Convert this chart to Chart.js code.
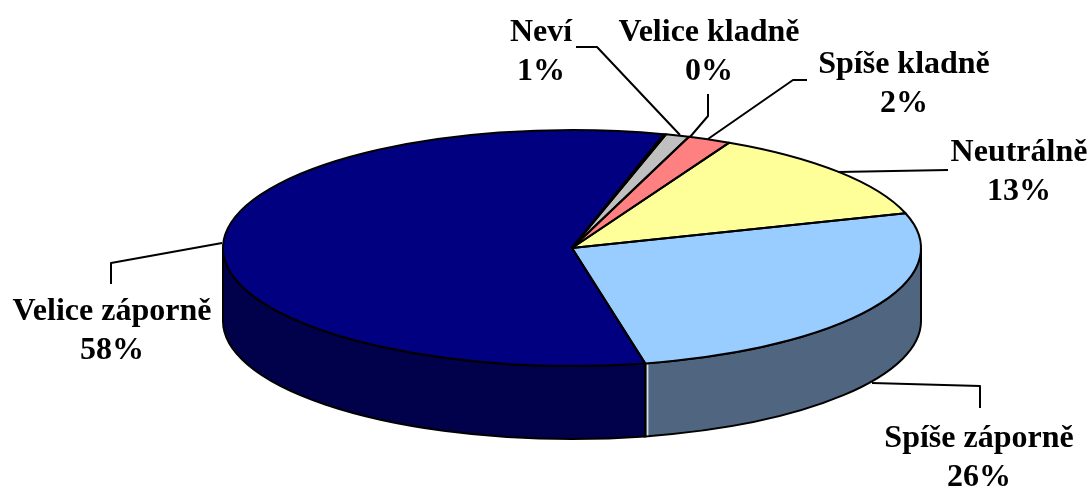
<!DOCTYPE html>
<html>
<head>
<meta charset="utf-8">
<style>html,body{margin:0;padding:0;background:#fff}canvas{display:block}</style>
<script src="https://cdn.jsdelivr.net/npm/chart.js@4"></script>
</head>
<body>
<canvas id="c" width="1092" height="489"></canvas>
<script>
// Clockwise from the boundary at the front of the pie
const categories = ["Velice záporně", "Velice kladně", "Neví", "Spíše kladně", "Neutrálně", "Spíše záporně"];
const values = [57.6, 0.1, 1.1, 2.0, 12.8, 26.4];
const percentLabels = ["58%", "0%", "1%", "2%", "13%", "26%"];
const topColors = ["#000080", "#000000", "#C0C0C0", "#FF8080", "#FFFF99", "#99CCFF"];
const wallColors = ["#00004B", "#000000", "#70707A", "#805050", "#808050", "#506680"];

const startRotation = 167.9;
const pie = {cx: 572, cy: 248, rx: 349, ry: 118, depth: 73};
const labelCentres = [[112, 312], [709, 33], [541, 33], [904, 65], [1019, 153], [979, 439]];
const leaders = [
  [[222, 243], [111, 263], [111, 284]],
  [[708, 94], [708, 116], [690, 137]],
  [[576, 47], [597, 47], [680, 135]],
  [[807, 80], [793, 80], [708, 139]],
  [[948, 170], [838, 172]],
  [[872, 383], [980, 386], [980, 408]]
];

const pie3d = {
  id: 'pie3d',
  beforeDatasetsDraw(chart) {
    const ctx = chart.ctx, arcs = chart.getDatasetMeta(0).data;
    const {cx, cy, rx, ry, depth} = pie;
    arcs.forEach((arc, i) => {
      let a = arc.startAngle, b = arc.endAngle;
      const tau = Math.PI * 2;
      while (a < 0) { a += tau; b += tau; }
      [0, tau].forEach(k => {
        const lo = Math.max(a, k), hi = Math.min(b, k + Math.PI);
        if (hi <= lo) return;
        ctx.beginPath();
        ctx.ellipse(cx, cy, rx, ry, 0, lo, hi);
        ctx.ellipse(cx, cy + depth, rx, ry, 0, hi, lo, true);
        ctx.closePath();
        ctx.fillStyle = wallColors[i];
        ctx.fill();
        ctx.strokeStyle = '#000';
        ctx.lineWidth = 2;
        ctx.stroke();
      });
    });
    // light seam on the front wall, at the boundary of the first slice
    const s = arcs[0].startAngle;
    const sx = cx + rx * Math.cos(s) + 2.5, sy = cy + ry * Math.sin(s);
    ctx.beginPath();
    ctx.moveTo(sx, sy + 1);
    ctx.lineTo(sx, sy + depth - 1);
    ctx.strokeStyle = '#D5DAE0';
    ctx.lineWidth = 1.5;
    ctx.stroke();

    const el = arcs[0];
    ctx.save();
    ctx.translate(cx, cy);
    ctx.scale(rx / el.outerRadius, ry / el.outerRadius);
    ctx.translate(-el.x, -el.y);
  },
  afterDatasetsDraw(chart) {
    const ctx = chart.ctx, arcs = chart.getDatasetMeta(0).data;
    ctx.restore();
    const {cx, cy, rx, ry} = pie;
    ctx.strokeStyle = '#000';
    ctx.lineJoin = 'round';
    arcs.forEach(arc => {
      ctx.beginPath();
      ctx.moveTo(cx, cy);
      ctx.ellipse(cx, cy, rx, ry, 0, arc.startAngle, arc.endAngle);
      ctx.closePath();
      ctx.lineWidth = 2;
      ctx.stroke();
    });
  },
  afterDraw(chart) {
    const ctx = chart.ctx;
    ctx.strokeStyle = '#000';
    ctx.lineWidth = 2;
    leaders.forEach(pts => {
      ctx.beginPath();
      pts.forEach((p, i) => i ? ctx.lineTo(p[0], p[1]) : ctx.moveTo(p[0], p[1]));
      ctx.stroke();
    });
    ctx.fillStyle = '#000';
    ctx.font = 'bold 32px "Liberation Serif"';
    ctx.textAlign = 'center';
    ctx.textBaseline = 'middle';
    categories.forEach((name, i) => {
      const [x, y] = labelCentres[i];
      ctx.fillText(name, x, y);
      ctx.fillText(percentLabels[i], x, y + 39);
    });
  }
};

new Chart(document.getElementById('c'), {
  type: 'pie',
  data: {
    labels: categories,
    datasets: [{data: values, backgroundColor: topColors, borderWidth: 0, clip: false}]
  },
  options: {
    responsive: false,
    animation: false,
    rotation: startRotation,
    layout: {padding: 0},
    plugins: {legend: {display: false}, tooltip: {enabled: false}, title: {display: false}}
  },
  plugins: [pie3d]
});
</script>
</body>
</html>
